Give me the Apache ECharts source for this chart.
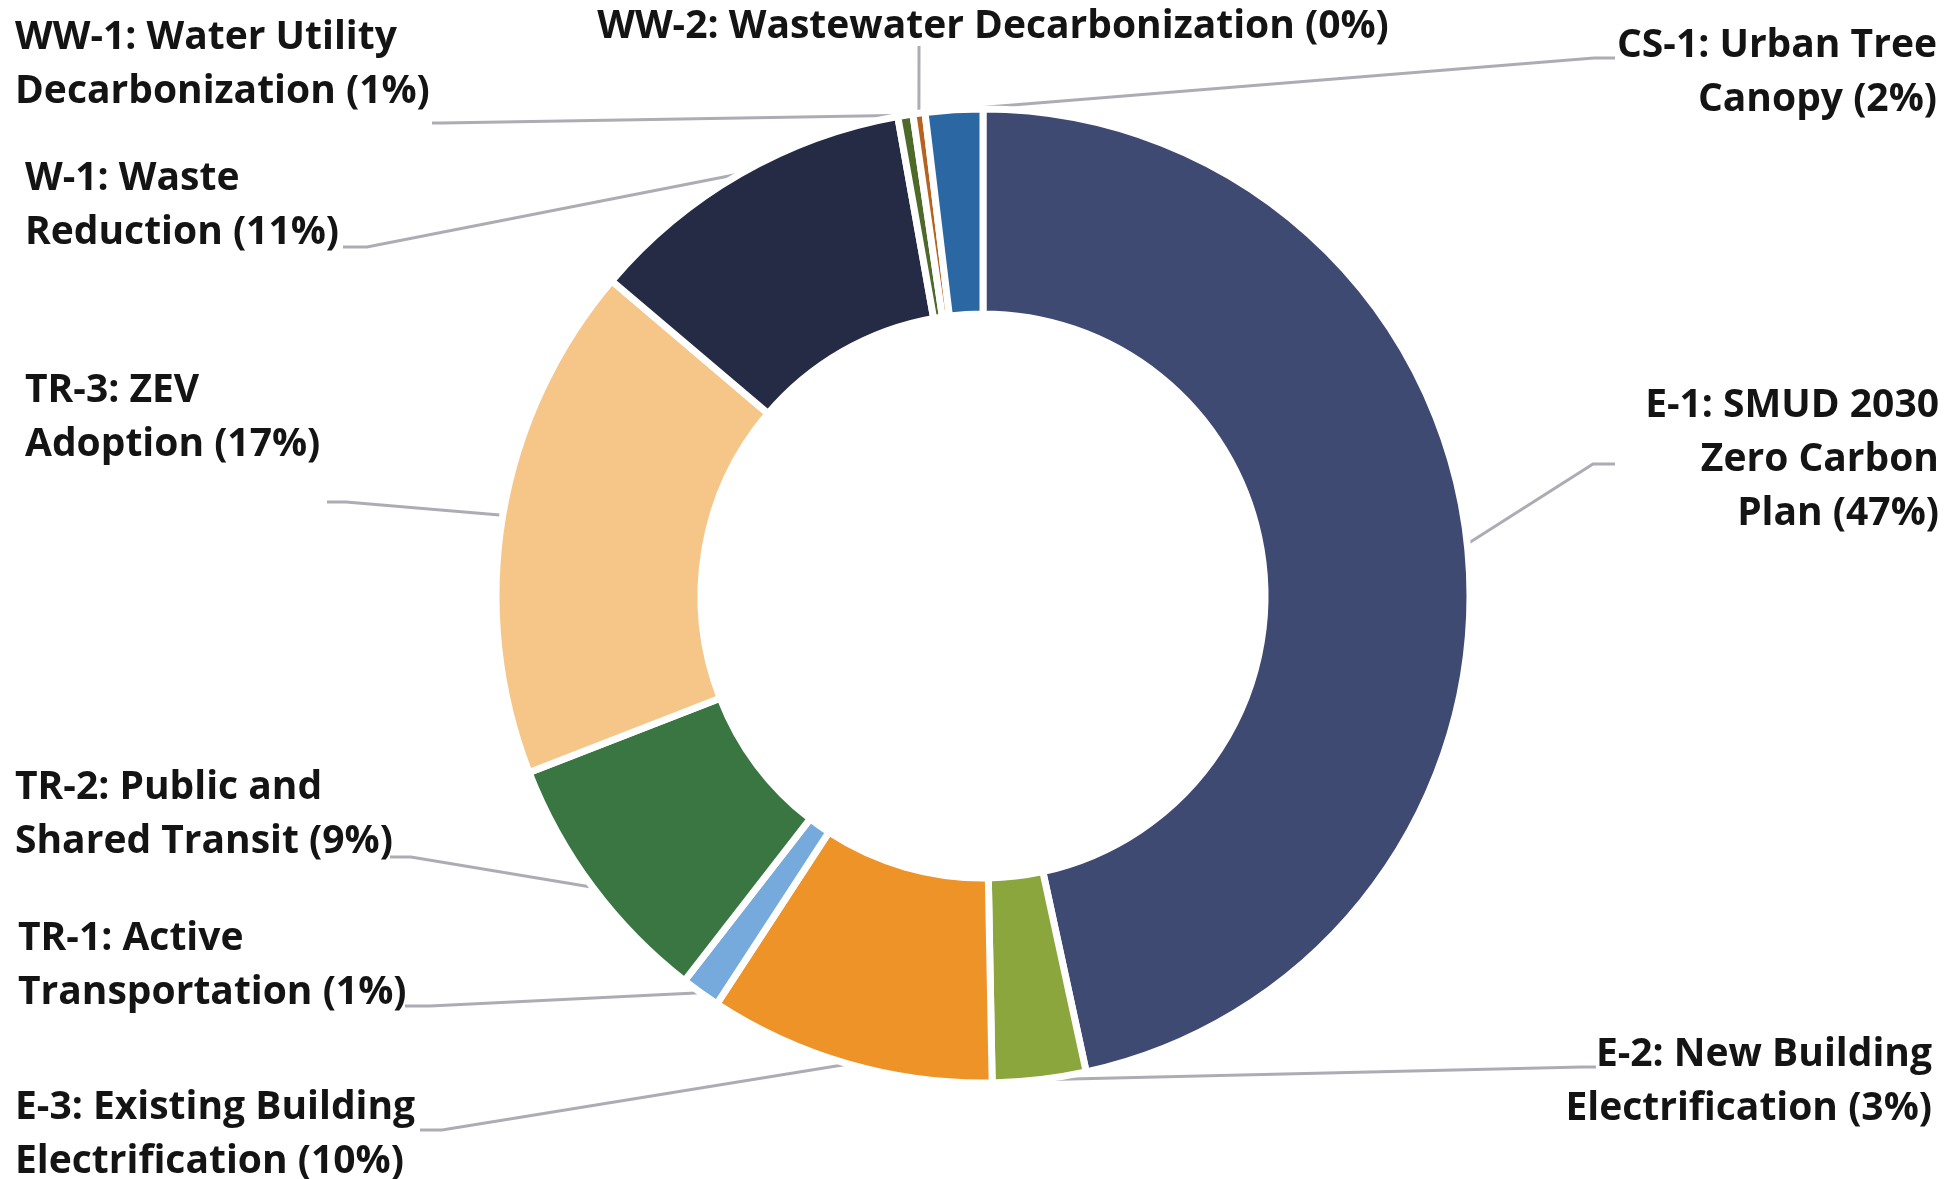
<!DOCTYPE html>
<html>
<head>
<meta charset="utf-8">
<script src="https://cdn.jsdelivr.net/npm/echarts@6/dist/echarts.min.js"></script>
<style>
html,body{margin:0;padding:0;background:#ffffff;}
#chart{width:1952px;height:1179px;}
</style>
</head>
<body>
<div id="chart"></div>
<script>
// ---- data ----
const categories = [
  "E-1: SMUD 2030\nZero Carbon\nPlan",
  "E-2: New Building\nElectrification",
  "E-3: Existing Building\nElectrification",
  "TR-1: Active\nTransportation",
  "TR-2: Public and\nShared Transit",
  "TR-3: ZEV\nAdoption",
  "W-1: Waste\nReduction",
  "WW-1: Water Utility\nDecarbonization",
  "WW-2: Wastewater Decarbonization",
  "CS-1: Urban Tree\nCanopy"
];
const values = [46.6, 3.1, 9.5, 1.3, 8.6, 17.1, 11.0, 0.5, 0.4, 1.9];
const colors = ["#3f4a72", "#8ba63c", "#ee9327", "#76a9dc", "#3a7642", "#f6c588", "#252b45", "#4e6a2b", "#b5631e", "#2a67a3"];

// ---- label placement (px) ----
const labelPlacement = [
  {x: 1939, y: 460,  align: "right",  bend: [1593, 464],  end: [1615, 464]},
  {x: 1932, y: 1082, align: "right",  bend: [1582, 1067], end: [1596, 1067]},
  {x: 15,   y: 1135, align: "left",   bend: [442, 1130],  end: [420, 1130]},
  {x: 18,   y: 966,  align: "left",   bend: [430, 1006],  end: [405, 1006]},
  {x: 15,   y: 815,  align: "left",   bend: [411, 857],   end: [390, 857]},
  {x: 25,   y: 418,  align: "left",   bend: [346, 502],   end: [327, 502]},
  {x: 25,   y: 206,  align: "left",   bend: [367, 247],   end: [343, 247]},
  {x: 15,   y: 65,   align: "left",   bend: [442, 123],   end: [432, 123]},
  {x: 993,  y: 27,   align: "center", bend: [919, 60],    end: [919, 46]},
  {x: 1937, y: 73,   align: "right",  bend: [1594, 58],   end: [1615, 58]}
];

const total = values.reduce((a, b) => a + b, 0);
const chart = echarts.init(document.getElementById('chart'), null, {renderer: 'canvas'});

chart.setOption({
  backgroundColor: '#ffffff',
  animation: false,
  color: colors,
  series: [{
    type: 'pie',
    center: [983, 596],
    radius: [282, 487],
    startAngle: 90,
    clockwise: true,
    avoidLabelOverlap: false,
    itemStyle: {borderColor: '#ffffff', borderWidth: 7},
    label: {
      show: true,
      position: 'outside',
      fontFamily: '"Open Sans", "Noto Sans", sans-serif',
      fontWeight: 700,
      fontSize: 39,
      lineHeight: 54,
      color: '#141414',
      formatter: function (p) {
        return p.name + ' (' + Math.round(p.value / total * 100) + '%)';
      }
    },
    labelLine: {
      show: true,
      length: 20,
      length2: 20,
      lineStyle: {color: '#adacb4', width: 3}
    },
    emphasis: {disabled: true},
    labelLayout: function (params) {
      const lp = labelPlacement[params.dataIndex];
      const pts = params.labelLinePoints;
      const start = pts ? pts[0] : lp.bend;
      return {
        x: lp.x,
        y: lp.y,
        align: lp.align,
        verticalAlign: 'middle',
        labelLinePoints: [start, lp.bend, lp.end]
      };
    },
    data: categories.map((c, i) => ({name: c, value: values[i]}))
  }]
});
</script>
</body>
</html>
